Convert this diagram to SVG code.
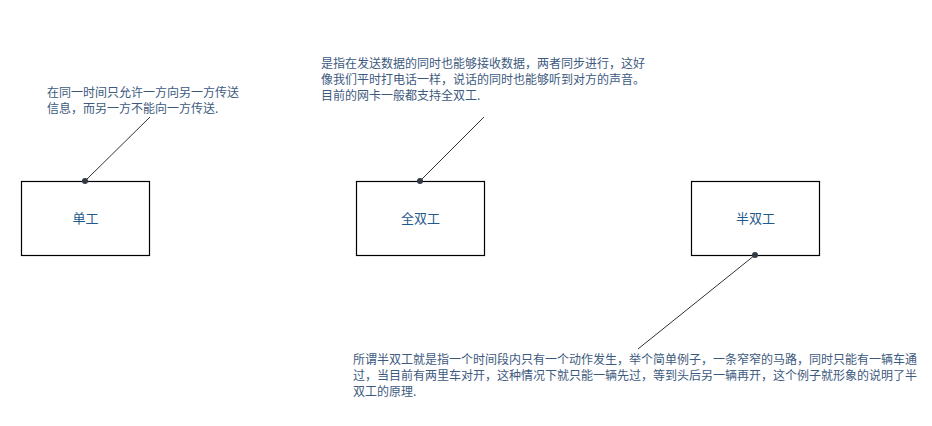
<svg xmlns="http://www.w3.org/2000/svg" width="932" height="426" viewBox="0 0 932 426">
<style>
.box{fill:#fff;stroke:#000;stroke-width:1.2}
.lbl{font-family:"Noto Sans CJK SC","Noto Sans",sans-serif;font-size:13px;fill:#1f5a8a;text-anchor:middle}
.note{font-family:"Noto Sans CJK SC","Noto Sans",sans-serif;font-size:12px;fill:#3d5a7e}
.conn{stroke:#333;stroke-width:1;fill:none}
.dot{fill:#333a45}
</style>
<rect width="932" height="426" fill="#fff"/>
<g id="connectors">
<line class="conn" x1="85" y1="181" x2="150" y2="117"/>
<line class="conn" x1="420" y1="181" x2="484" y2="117"/>
<line class="conn" x1="755" y1="255" x2="638" y2="349"/>
</g>
<g id="node-simplex">
<rect class="box" x="21.5" y="181.5" width="128" height="74"/>
<text class="lbl" x="85.5" y="223">单工</text>
</g>
<g id="node-full-duplex">
<rect class="box" x="356.5" y="181.5" width="128" height="74"/>
<text class="lbl" x="420.5" y="223">全双工</text>
</g>
<g id="node-half-duplex">
<rect class="box" x="691.5" y="181.5" width="128" height="74"/>
<text class="lbl" x="755.5" y="223">半双工</text>
</g>
<g id="dots">
<circle class="dot" cx="85" cy="181" r="3"/>
<circle class="dot" cx="420" cy="181" r="3"/>
<circle class="dot" cx="755" cy="255" r="3"/>
</g>
<g id="note-simplex">
<text class="note" x="47" y="97">在同一时间只允许一方向另一方传送</text>
<text class="note" x="47" y="113">信息，而另一方不能向一方传送.</text>
</g>
<g id="note-full-duplex">
<text class="note" x="321" y="68">是指在发送数据的同时也能够接收数据，两者同步进行，这好</text>
<text class="note" x="321" y="84">像我们平时打电话一样，说话的同时也能够听到对方的声音。</text>
<text class="note" x="321" y="100">目前的网卡一般都支持全双工.</text>
</g>
<g id="note-half-duplex">
<text class="note" x="353" y="364">所谓半双工就是指一个时间段内只有一个动作发生，举个简单例子，一条窄窄的马路，同时只能有一辆车通</text>
<text class="note" x="353" y="380">过，当目前有两里车对开，这种情况下就只能一辆先过，等到头后另一辆再开，这个例子就形象的说明了半</text>
<text class="note" x="353" y="396">双工的原理.</text>
</g>
</svg>
